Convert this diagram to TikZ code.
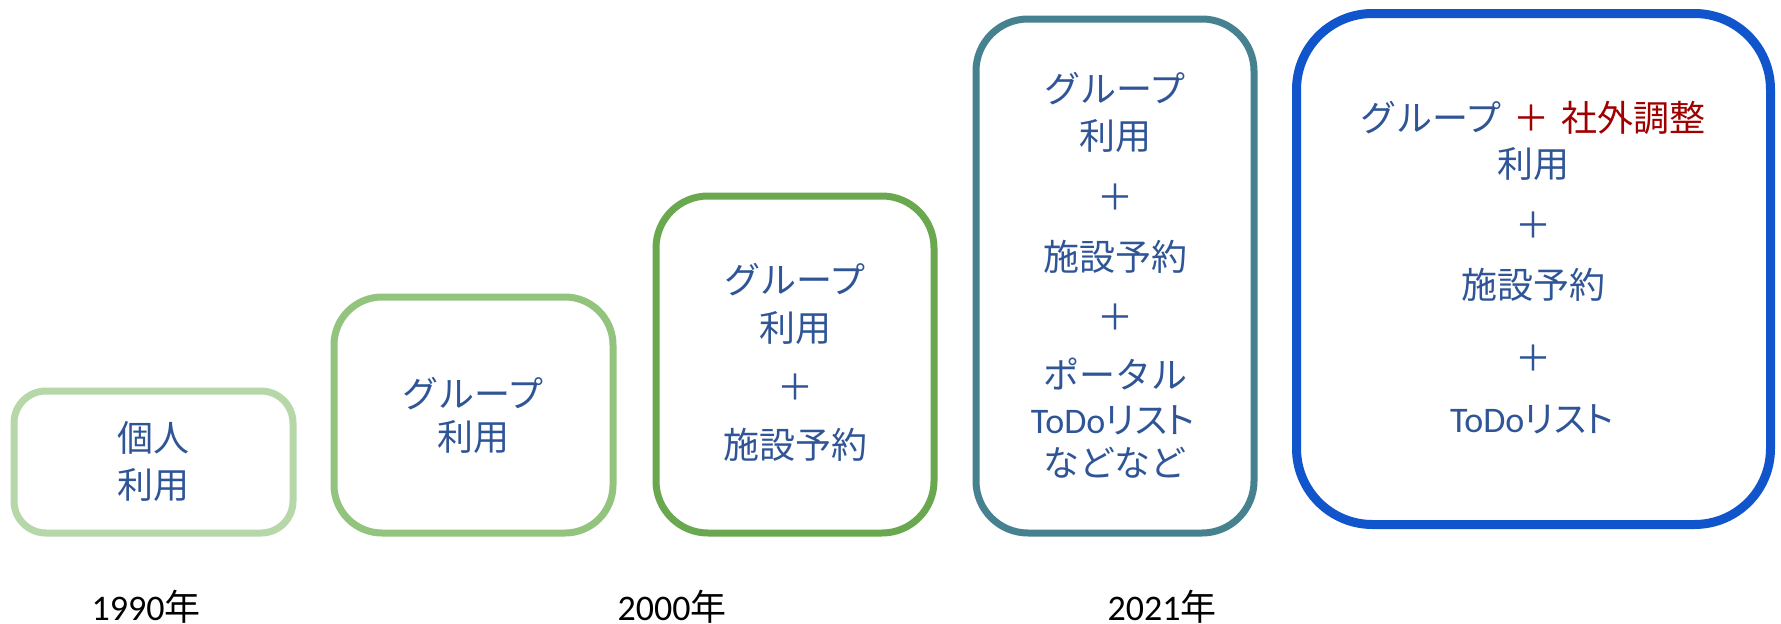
\documentclass[tikz,border=0pt]{standalone}
\usepackage{fontspec}
\newfontfamily\cjk{Noto Sans CJK JP}
\newfontfamily\cjkp[RawFeature=+palt]{Noto Sans CJK JP}
\newfontfamily\yrfont{Carlito}
\definecolor{g1}{HTML}{B6D7A8}
\definecolor{g2}{HTML}{93C47D}
\definecolor{g3}{HTML}{6AA84F}
\definecolor{teal4}{HTML}{46818F}
\definecolor{blue5}{HTML}{1155CC}
\definecolor{txtblue}{HTML}{2F5597}
\definecolor{txtred}{HTML}{A00000}
\newcommand{\todolist}{{\yrfont ToDo}{\cjkp リスト}}
\begin{document}
\begin{tikzpicture}[x=1pt,y=-1pt,
  box/.style={draw, fill=white, line width=7pt, inner sep=0pt},
  t/.style={font=\cjk\fontsize{36}{40}\selectfont, text=txtblue, anchor=base, yshift=-13.5pt, inner sep=0pt},
  yr/.style={font=\fontsize{36}{40}\selectfont, text=black, anchor=base, yshift=-11pt, inner sep=0pt}]
\useasboundingbox (0,0) rectangle (1781,624);
\fill[white] (0,0) rectangle (1781,624);

% boxes
\node[box, draw=g1, rounded corners=32pt, minimum width=279pt, minimum height=142pt] (b1) at (153.5,462) {};
\node[box, draw=g2, rounded corners=48pt, minimum width=279pt, minimum height=236pt] (b2) at (473.5,415) {};
\node[box, draw=g3, rounded corners=52pt, minimum width=278pt, minimum height=337pt] (b3) at (795,364.5) {};
\node[box, draw=teal4, rounded corners=52pt, minimum width=278pt, minimum height=514pt] (b4) at (1115,276) {};
\node[box, draw=blue5, line width=9pt, rounded corners=76pt, minimum width=474pt, minimum height=511pt] (b5) at (1533.5,269) {};

% box 1
\node[t] (b1a) at (153,438) {個人};
\node[t] (b1b) at (153,485) {利用};
% box 2
\node[t] (b2a) at (473,394) {グループ};
\node[t] (b2b) at (473,437) {利用};
% box 3
\node[t] (b3a) at (795,280) {グループ};
\node[t] (b3b) at (795,328) {利用};
\node[t] (b3c) at (795,387) {＋};
\node[t] (b3d) at (795,445) {施設予約};
% box 4
\node[t] (b4a) at (1115,89) {グループ};
\node[t] (b4b) at (1115,136) {利用};
\node[t] (b4c) at (1115,197) {＋};
\node[t] (b4d) at (1115,257) {施設予約};
\node[t] (b4e) at (1115,317) {＋};
\node[t] (b4f) at (1115,375) {ポータル};
\node[t] (b4g) at (1113,420) {\todolist};
\node[t] (b4h) at (1115,463) {などなど};
% box 5
\node[t] (b5a) at (1533,118) {グループ\hspace{12pt}\textcolor{txtred}{＋\hspace{12pt}社外調整}};
\node[t] (b5b) at (1533,164) {利用};
\node[t] (b5c) at (1533,225) {＋};
\node[t] (b5d) at (1533,285) {施設予約};
\node[t] (b5e) at (1533,358) {＋};
\node[t] (b5f) at (1532,419) {\todolist};

% years
\node[yr] (y1) at (146,609) {\yrfont 1990\cjk 年};
\node[yr] (y2) at (672,609) {\yrfont 2000\cjk 年};
\node[yr] (y3) at (1162,609) {\yrfont 2021\cjk 年};
\end{tikzpicture}
\end{document}
